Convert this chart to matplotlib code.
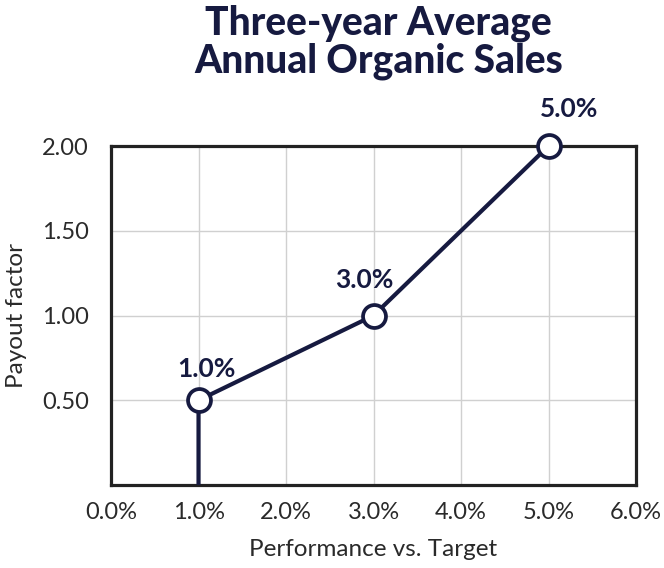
import matplotlib.pyplot as plt

# data
perf = [1.0, 1.0, 3.0, 5.0]
payout = [0.0, 0.5, 1.0, 2.0]
point_x = [1.0, 3.0, 5.0]
point_y = [0.5, 1.0, 2.0]
point_labels = ['1.0%', '3.0%', '5.0%']
xticks = [0, 1, 2, 3, 4, 5, 6]
yticks = [0.5, 1.0, 1.5, 2.0]

navy = '#161a40'
plt.rcParams['font.family'] = ['Lato', 'DejaVu Sans']

fig = plt.figure(figsize=(6.64, 5.68), dpi=100)
ax = fig.add_axes([0.1672, 0.1461, 0.7907, 0.5968])

ax.plot(perf, payout, color=navy, lw=3, zorder=3, solid_capstyle='butt')
ax.plot(point_x, point_y, 'o', ms=16.5, mfc='white', mec=navy, mew=2.7, zorder=4, clip_on=False)

# label offsets in points (baseline)
offsets = [(6, 17), (-6.5, 19.5), (15, 21)]
for x, y, lab, (dx, dy) in zip(point_x, point_y, point_labels, offsets):
    ax.annotate(lab, (x, y), xytext=(dx, dy), textcoords='offset points',
                ha='center', va='baseline', fontsize=19, fontweight='bold', color=navy)

ax.set_xlim(0, 6)
ax.set_ylim(0, 2)
ax.set_xticks(xticks)
ax.set_xticklabels([f'{t:.1f}%' for t in xticks])
ax.set_yticks(yticks)
ax.set_yticklabels([f'{t:.2f}' for t in yticks])
ax.tick_params(length=0, labelsize=17, colors='#2a2a2a')
ax.tick_params(axis='x', pad=12)
ax.tick_params(axis='y', pad=16)
ax.grid(color='#d0d0d0', lw=1)
ax.set_axisbelow(True)
for s in ax.spines.values():
    s.set_color('#222222')
    s.set_linewidth(2.3)

ax.set_xlabel('Performance vs. Target', fontsize=17.5, color='#2a2a2a', labelpad=12)
ax.set_ylabel('Payout factor', fontsize=17.5, color='#2a2a2a', labelpad=11)

fig.text(0.57, 0.926, 'Three-year Average\nAnnual Organic Sales', ha='center', va='center',
         fontsize=28, fontweight='black', color=navy, linespacing=1.0)

fig.savefig('out.png', dpi=100)
